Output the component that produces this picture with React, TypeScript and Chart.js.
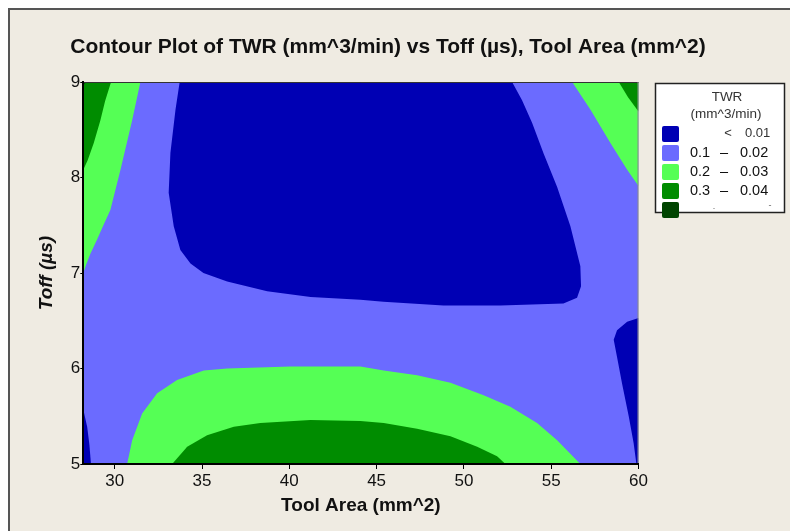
import React, { useEffect, useRef } from "react";
import { Chart, registerables } from "chart.js";

Chart.register(...registerables);

// ---------- text ----------
const TITLE = "Contour Plot of TWR (mm^3/min) vs Toff (µs), Tool Area (mm^2)";
const X_LABEL = "Tool Area (mm^2)";
const Y_LABEL = "Toff (µs)";

// ---------- axes ----------
const X_MIN = 28.2;
const X_MAX = 60;
const Y_MIN = 5;
const Y_MAX = 9;
const X_TICKS = [30, 35, 40, 45, 50, 55, 60];
const Y_TICKS = [5, 6, 7, 8, 9];

// ---------- legend ----------
const LEVEL_COLORS = ["#0000B4", "#6B6BFF", "#55FF55", "#008C00", "#004400"];
const LEGEND_TITLE = ["TWR", "(mm^3/min)"];
const LEGEND_LOW = ["", "0.1", "0.2", "0.3", "."];
const LEGEND_SEP = ["<", "–", "–", "–", ""];
const LEGEND_HIGH = ["0.01", "0.02", "0.03", "0.04", "-"];

// ---------- contour regions: [Tool Area, Toff] boundary points ----------
const plotBackground: [number, number][] = [
  [28.2, 5], [60, 5], [60, 9], [28.2, 9],
];

const darkBlueTop: [number, number][] = [
  [33.72, 9], [33.48, 8.71], [33.19, 8.26], [33.09, 7.84], [33.38, 7.49],
  [33.76, 7.24], [34.34, 7.1], [35.08, 7.0], [36.44, 6.91], [38.73, 6.81],
  [41.22, 6.75], [44.07, 6.72], [45.39, 6.7], [48.83, 6.66], [52.09, 6.66],
  [55.7, 6.68], [56.48, 6.74], [56.71, 6.86], [56.67, 7.07], [56.1, 7.49],
  [55.34, 7.9], [54.57, 8.25], [53.91, 8.57], [53.33, 8.81], [52.76, 9],
];

const darkBlueRight: [number, number][] = [
  [60, 6.53], [59.35, 6.49], [58.77, 6.4], [58.58, 6.3], [58.77, 6.12],
  [59.06, 5.84], [59.44, 5.5], [59.72, 5.22], [59.88, 5], [60, 5],
];

const darkBlueLeft: [number, number][] = [
  [28.2, 5.57], [28.42, 5.39], [28.55, 5.2], [28.64, 5], [28.2, 5],
];

const lightGreenTopLeft: [number, number][] = [
  [28.2, 9], [31.47, 9], [31.0, 8.6], [30.33, 8.08], [29.75, 7.66],
  [29.3, 7.48], [28.99, 7.35], [28.6, 7.2], [28.35, 7.08], [28.2, 7.0],
];

const lightGreenTopRight: [number, number][] = [
  [56.2, 9], [57.25, 8.71], [58.39, 8.36], [59.35, 8.08], [60, 7.91], [60, 9],
];

const lightGreenBottom: [number, number][] = [
  [30.71, 5], [31.0, 5.25], [31.57, 5.53], [32.43, 5.74], [33.57, 5.88],
  [35.1, 5.98], [36.44, 6.0], [40.06, 6.02], [44.07, 6.02], [45.41, 5.98],
  [47.32, 5.93], [49.23, 5.85], [51.13, 5.72], [52.66, 5.6], [54.19, 5.43],
  [55.34, 5.25], [56.67, 5],
];

const darkGreenTopLeft: [number, number][] = [
  [28.2, 9], [29.79, 9], [29.45, 8.8], [29.18, 8.6], [28.8, 8.36],
  [28.45, 8.18], [28.2, 8.08],
];

const darkGreenTopRight: [number, number][] = [
  [58.87, 9], [59.4, 8.84], [60, 8.69], [60, 9],
];

const darkGreenBottom: [number, number][] = [
  [33.29, 5], [34.15, 5.18], [35.29, 5.3], [36.82, 5.39], [38.34, 5.43],
  [41.21, 5.46], [44.07, 5.45], [45.41, 5.43], [47.32, 5.37], [49.23, 5.29],
  [50.76, 5.18], [51.9, 5.08], [52.38, 5],
];

const darkestGreenCorner: [number, number][] = [
  [28.2, 9], [28.35, 9], [28.2, 8.96],
];

// level index into LEVEL_COLORS, layer order (higher = painted first)
const REGIONS: { pts: [number, number][]; level: number; layer: number }[] = [
  { pts: plotBackground, level: 1, layer: 10 },
  { pts: darkBlueTop, level: 0, layer: 8 },
  { pts: darkBlueRight, level: 0, layer: 8 },
  { pts: darkBlueLeft, level: 0, layer: 8 },
  { pts: lightGreenTopLeft, level: 2, layer: 6 },
  { pts: lightGreenTopRight, level: 2, layer: 6 },
  { pts: lightGreenBottom, level: 2, layer: 6 },
  { pts: darkGreenTopLeft, level: 3, layer: 4 },
  { pts: darkGreenTopRight, level: 3, layer: 4 },
  { pts: darkGreenBottom, level: 3, layer: 4 },
  { pts: darkestGreenCorner, level: 4, layer: 2 },
];

const FONT = "'Liberation Sans', Arial, sans-serif";
const BG = "#EFEBE2";

const decorPlugin = {
  id: "decor",
  afterDatasetsDraw(chart: any) {
    const { ctx, chartArea } = chart;
    ctx.save();
    ctx.lineWidth = 1;
    ctx.strokeStyle = "#333";
    ctx.beginPath();
    ctx.moveTo(chartArea.left, chartArea.top + 0.5);
    ctx.lineTo(chartArea.right, chartArea.top + 0.5);
    ctx.stroke();
    ctx.strokeStyle = "#8a8a8a";
    ctx.beginPath();
    ctx.moveTo(chartArea.right - 0.5, chartArea.top);
    ctx.lineTo(chartArea.right - 0.5, chartArea.bottom);
    ctx.stroke();
    ctx.restore();
  },
  afterDraw(chart: any) {
    const { ctx } = chart;
    ctx.save();
    // title
    ctx.fillStyle = "#111";
    ctx.font = `bold 21px ${FONT}`;
    ctx.textAlign = "center";
    ctx.textBaseline = "middle";
    ctx.fillText(TITLE, 388, 47);

    // legend box
    const bx = 655, by = 83, bw = 129, bh = 129;
    ctx.fillStyle = "#fff";
    ctx.fillRect(bx, by, bw, bh);
    ctx.strokeStyle = "#222";
    ctx.lineWidth = 1.5;
    ctx.strokeRect(bx + 0.5, by + 0.5, bw, bh);

    ctx.fillStyle = "#333";
    ctx.font = `13.5px ${FONT}`;
    ctx.textAlign = "center";
    ctx.fillText(LEGEND_TITLE[0], 727, 97);
    ctx.fillText(LEGEND_TITLE[1], 726, 114);

    for (let i = 0; i < LEVEL_COLORS.length; i++) {
      const top = 126 + i * 19;
      ctx.fillStyle = LEVEL_COLORS[i];
      ctx.beginPath();
      (ctx as any).roundRect(662, top, 17, 16, 2);
      ctx.fill();
      const cy = top + 7.5;
      ctx.fillStyle = "#111";
      ctx.textBaseline = "middle";
      if (i === 0) {
        ctx.font = `13px ${FONT}`;
        ctx.fillStyle = "#333";
        ctx.textAlign = "center";
        ctx.fillText(LEGEND_SEP[i], 728, cy);
        ctx.textAlign = "left";
        ctx.fillText(LEGEND_HIGH[i], 745, cy);
      } else if (i === LEVEL_COLORS.length - 1) {
        ctx.font = `9px ${FONT}`;
        ctx.fillStyle = "#666";
        ctx.textAlign = "center";
        ctx.fillText(LEGEND_LOW[i], 714, cy - 3);
        ctx.fillText(LEGEND_HIGH[i], 770, cy - 4);
      } else {
        ctx.font = `14.5px ${FONT}`;
        ctx.textAlign = "left";
        ctx.fillText(LEGEND_LOW[i], 690, cy);
        ctx.textAlign = "center";
        ctx.fillText(LEGEND_SEP[i], 724, cy);
        ctx.textAlign = "left";
        ctx.fillText(LEGEND_HIGH[i], 740, cy);
      }
    }
    ctx.restore();
  },
};

export default function App() {
  const canvasRef = useRef<HTMLCanvasElement | null>(null);

  useEffect(() => {
    const canvas = canvasRef.current;
    if (!canvas) return;
    const datasets = REGIONS.map((r) => ({
      data: r.pts.map(([x, y]) => ({ x, y })),
      backgroundColor: LEVEL_COLORS[r.level],
      borderColor: "transparent",
      borderWidth: 0,
      pointRadius: 0,
      pointHoverRadius: 0,
      fill: "shape",
      tension: 0,
      order: r.layer,
    }));

    const chart = new Chart(canvas, {
      type: "line",
      data: { datasets } as any,
      plugins: [decorPlugin],
      options: {
        animation: false,
        responsive: false,
        events: [],
        layout: { padding: { left: 0, top: 82, right: 151.5, bottom: 0 } },
        plugins: {
          legend: { display: false },
          tooltip: { enabled: false },
          title: { display: false },
        },
        scales: {
          x: {
            type: "linear",
            min: X_MIN,
            max: X_MAX,
            afterBuildTicks: (s: any) => {
              s.ticks = X_TICKS.map((v) => ({ value: v }));
            },
            afterFit: (s: any) => {
              s.height = 67;
            },
            grid: {
              drawOnChartArea: false,
              drawTicks: true,
              tickLength: 5,
              tickColor: "#000",
              tickWidth: 1,
            },
            border: { display: true, color: "#000", width: 2, z: 1 },
            ticks: {
              font: { family: FONT, size: 17 },
              color: "#111",
              padding: 2,
              maxRotation: 0,
              autoSkip: false,
            },
            title: {
              display: true,
              text: X_LABEL,
              color: "#111",
              font: { family: FONT, size: 19, weight: "bold" },
              padding: { top: 0, bottom: 14 },
            },
          },
          y: {
            type: "linear",
            min: Y_MIN,
            max: Y_MAX,
            afterBuildTicks: (s: any) => {
              s.ticks = Y_TICKS.map((v) => ({ value: v }));
            },
            afterFit: (s: any) => {
              s.width = 83.3;
            },
            grid: {
              drawOnChartArea: false,
              drawTicks: true,
              tickLength: 3,
              tickColor: "#000",
              tickWidth: 1,
            },
            border: { display: true, color: "#000", width: 2, z: 1 },
            ticks: {
              font: { family: FONT, size: 17 },
              color: "#111",
              padding: 0,
              autoSkip: false,
            },
            title: {
              display: true,
              text: Y_LABEL,
              color: "#111",
              font: { family: FONT, size: 19, weight: "bold", style: "italic" },
              padding: { top: 35, bottom: 0 },
            },
          },
        },
      } as any,
    });
    return () => chart.destroy();
  }, []);

  return (
    <div
      style={{
        position: "fixed",
        left: 0,
        top: 0,
        width: 790,
        height: 531,
        background: "#fff",
        overflow: "hidden",
      }}
    >
      <div
        style={{
          position: "absolute",
          left: 8,
          top: 8,
          right: 0,
          bottom: 0,
          background: BG,
          borderTop: "2px solid #555",
          borderLeft: "2px solid #555",
        }}
      />
      <canvas
        ref={canvasRef}
        width={790}
        height={531}
        style={{ position: "absolute", left: 0, top: 0, width: 790, height: 531 }}
      />
    </div>
  );
}
